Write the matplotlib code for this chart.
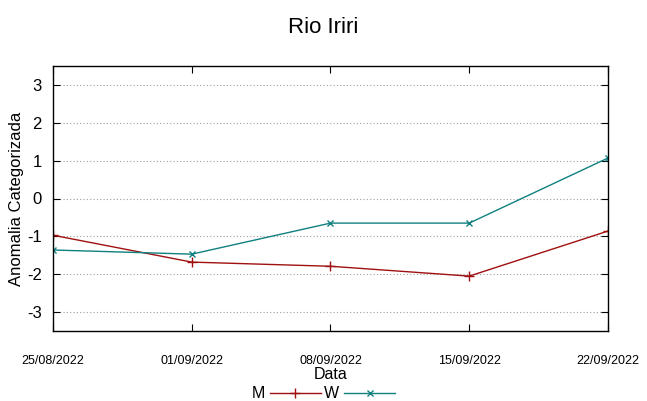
import numpy as np
import matplotlib.pyplot as plt
import matplotlib.dates as mdates
import pandas as pd

plt.rcParams['font.family'] = ['Liberation Sans', 'DejaVu Sans']
plt.rcParams['axes.unicode_minus'] = False

# data
datas = ['2022-08-25', '2022-09-01', '2022-09-08', '2022-09-15', '2022-09-22']
m_vals = [-0.97, -1.68, -1.79, -2.05, -0.86]
w_vals = [-1.36, -1.47, -0.65, -0.65, 1.07]
y_ticks = [-3, -2, -1, 0, 1, 2, 3]

x = pd.to_datetime(datas)

fig = plt.figure(figsize=(6.47, 4.01), dpi=100)
ax = fig.add_axes([53 / 647, 1 - 331 / 401, 555 / 647, 265 / 401])

ax.plot(x, m_vals, color='#a01010', lw=1, marker='+', ms=7, mew=1, label='M')
ax.plot(x, w_vals, color='#108080', lw=1, marker='x', ms=5, mew=1, label='W')

ax.set_xlim(x[0], x[-1])
ax.set_ylim(-3.5, 3.5)
ax.set_yticks(y_ticks)
ax.set_xticks(x)
ax.xaxis.set_major_formatter(mdates.DateFormatter('%d/%m/%Y'))
ax.grid(axis='y', linestyle=(0, (1, 2)), color='#a0a0a0', lw=0.8)
ax.tick_params(axis='y', direction='in', right=True, labelsize=12, length=5, pad=8)
ax.tick_params(axis='x', direction='in', top=True, labelsize=9, length=5, pad=17)
for s in ax.spines.values():
    s.set_linewidth(1)

ax.set_xlabel('Data', fontsize=11.5, labelpad=0)
ax.set_ylabel('Anomalia Categorizada', fontsize=12, labelpad=2)
fig.suptitle('Rio Iriri', fontsize=16, y=0.958)

fig.legend(loc='lower center', bbox_to_anchor=(0.5, -0.037), ncol=2, frameon=False,
           markerfirst=False, fontsize=11.5, handlelength=3.2, handletextpad=0.3,
           columnspacing=0.2)

fig.savefig('out.png', dpi=100)
